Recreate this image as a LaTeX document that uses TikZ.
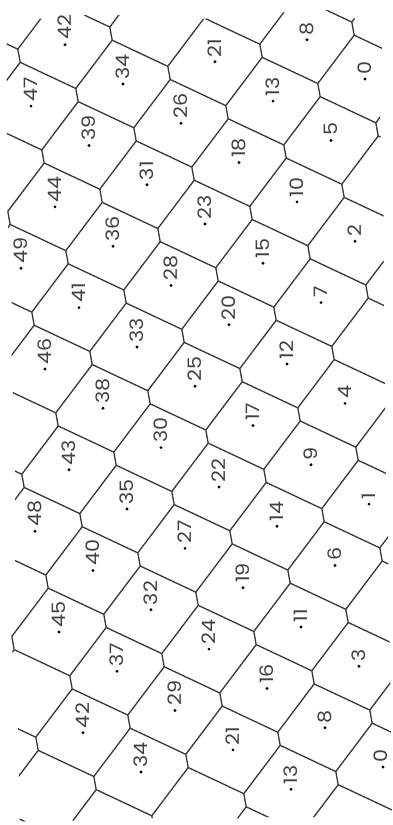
\documentclass[tikz,border=0pt]{standalone}
\usepackage{fontspec}
\newfontfamily\labelfont{Poppins}
\definecolor{edgecol}{RGB}{55,55,55}
\definecolor{txtcol}{RGB}{65,65,65}
\begin{document}
\begin{tikzpicture}[x=1pt,y=-1pt,
  cell/.style={draw=edgecol, line width=1.3pt, line join=round},
  lab/.style={rotate=90, anchor=west, inner sep=0pt, text=txtcol,
    font=\labelfont\fontsize{18.5}{21}\selectfont},
  dot/.style={fill=black, circle, inner sep=0pt, minimum size=3.2pt}]
\useasboundingbox (0,0) rectangle (392,825);
\begin{scope}
\clip (6.5,20.5) -- (42,18.5) -- (88,15) -- (198,15) -- (204,19) -- (212,17)
  -- (283,12.5) -- (332,10) -- (347,10) -- (357,21) -- (382,40) -- (380,117)
  -- (383.5,215) -- (384,310) -- (386,480) -- (388,540) -- (390.5,690)
  -- (391,735) -- (392,812) -- (315,817) -- (270,817) -- (240,818.5)
  -- (150,818) -- (75,820.5) -- (19.7,821.5) -- (18,729) -- (11.3,636)
  -- (15,562) -- (15,470) -- (11.7,356) -- (11.5,300) -- (7.3,211)
  -- (6.7,85) -- cycle;
\foreach \j in {-12,...,1}{
  \foreach \i in {-6,...,7}{
    \draw[cell, shift={(365+58*\i+34*\j, 79+39.3*\i-61.44*\j)}]
      (-10.8,-43.8) -- (44.8,-17.64) -- (47.2,-4.5) -- (10.8,43.8);
  }
}
\end{scope}
\foreach \i/\j in {-1/0,0/0,
  -2/-1,-1/-1,0/-1,
  -4/-2,-3/-2,-2/-2,-1/-2,0/-2,1/-2,
  -4/-3,-3/-3,-2/-3,-1/-3,0/-3,1/-3,
  -3/-4,-2/-4,-1/-4,0/-4,1/-4,2/-4,
  -3/-5,-2/-5,-1/-5,0/-5,1/-5,2/-5,3/-5,
  -2/-6,-1/-6,0/-6,1/-6,2/-6,3/-6,
  -1/-7,0/-7,1/-7,2/-7,3/-7,4/-7,
  -1/-8,0/-8,1/-8,2/-8,3/-8,4/-8,5/-8,
  0/-9,1/-9,2/-9,3/-9,4/-9,
  1/-10,2/-10}{
  \pgfmathtruncatemacro\lab{Mod(-8*\i-5*\j,50)}
  \pgfmathsetmacro\tx{min(364.5+58*\i+34*\j,380.5)}
  \node[dot] (d\i\j) at (365+58*\i+34*\j, 79+39.3*\i-61.44*\j) {};
  \node[lab] (t\i\j) at (\tx, 79+39.3*\i-61.44*\j-4.5) {\scalebox{1.12}[1]{\lab}};
}
\end{tikzpicture}
\end{document}
